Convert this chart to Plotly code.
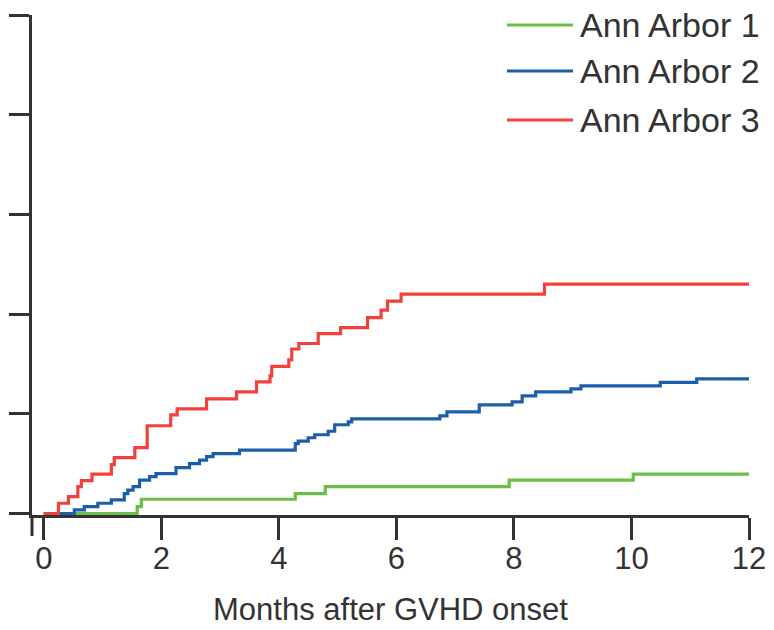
import plotly.graph_objects as go

# Step times (months) and cumulative incidence (%)
names = ["Ann Arbor 1", "Ann Arbor 2", "Ann Arbor 3"]
colors = ["#6cbd45", "#1c5ea8", "#f0413a"]

aa1_x = [0, 1.59, 1.66, 4.28, 4.79, 7.92, 10.03, 12]
aa1_y = [0, 0.7, 1.43, 2.0, 2.7, 3.35, 3.95, 3.95]

aa2_x = [0, 0.52, 0.69, 0.92, 1.15, 1.37, 1.43, 1.52, 1.63, 1.80, 1.91, 2.25,
         2.48, 2.65, 2.77, 2.88, 3.33, 4.28, 4.33, 4.50, 4.61, 4.84, 4.95,
         5.18, 5.24, 6.74, 6.86, 7.41, 7.97, 8.14, 8.37, 8.97, 9.14, 10.49,
         11.11, 12]
aa2_y = [0, 0.36, 0.7, 1.03, 1.36, 2.0, 2.35, 2.7, 3.35, 3.7, 4.0, 4.6,
         5.0, 5.35, 5.7, 6.0, 6.35, 7.0, 7.25, 7.6, 7.9, 8.25, 8.9,
         9.2, 9.5, 9.8, 10.2, 10.9, 11.2, 11.8, 12.2, 12.5, 12.8, 13.15,
         13.5, 13.5]

aa3_x = [0, 0.25, 0.42, 0.58, 0.64, 0.82, 1.15, 1.20, 1.55, 1.76, 2.16, 2.27,
         2.77, 3.28, 3.62, 3.85, 3.88, 4.17, 4.22, 4.34, 4.67, 5.05, 5.51,
         5.74, 5.85, 6.08, 8.52, 12]
aa3_y = [0, 1.03, 1.7, 2.7, 3.3, 3.95, 4.9, 5.6, 6.6, 8.8, 9.9, 10.5,
         11.5, 12.2, 13.2, 13.8, 14.75, 15.4, 16.5, 17.05, 18.05, 18.65, 19.65,
         20.4, 21.3, 22.0, 23.0, 23.0]

x_ticks = [0, 2, 4, 6, 8, 10, 12]
y_ticks = [0, 10, 20, 30, 40, 50]
x_title = "Months after GVHD onset"

series = [(aa1_x, aa1_y), (aa2_x, aa2_y), (aa3_x, aa3_y)]

FONT = "Liberation Sans, Arial, sans-serif"
TXT = "#333333"
AX = "#333333"

fig = go.Figure()
for (xs, ys), nm, col in zip(series, names, colors):
    fig.add_trace(go.Scatter(x=xs, y=ys, mode="lines", name=nm,
                             line=dict(color=col, width=3.2, shape="hv"),
                             showlegend=False, hoverinfo="skip"))

# manual legend (long line samples like the reference)
leg_y = [0.98, 0.888, 0.79]
for nm, col, ly in zip(names, colors, leg_y):
    fig.add_shape(type="line", xref="paper", yref="paper",
                  x0=0.6625, x1=0.7545, y0=ly, y1=ly,
                  line=dict(color=col, width=3.2))
    fig.add_annotation(xref="paper", yref="paper", x=0.761, y=ly,
                       text=nm, showarrow=False, xanchor="left", yanchor="middle",
                       font=dict(size=34, color=TXT, family=FONT))

# y-axis extension below x axis
fig.add_shape(type="line", xref="paper", yref="paper", x0=0, x1=0, y0=0, y1=-0.042,
              line=dict(color=AX, width=3))

# page body has an 8px default margin, so the figure is sized/margined to compensate
fig.update_layout(
    width=766, height=622,
    margin=dict(l=24, r=25, t=7, b=115, autoexpand=False),
    paper_bgcolor="white", plot_bgcolor="white",
    font=dict(family=FONT, color=TXT, size=31),
    xaxis=dict(range=[-0.2, 12], tickvals=x_ticks, ticks="outside", ticklen=22,
               tickwidth=3, tickcolor=AX, showline=True, linewidth=3, linecolor=AX,
               showgrid=False, zeroline=False, layer="below traces",
               automargin=False, ticklabelstandoff=-8,
               tickfont=dict(size=31, color=TXT, family=FONT),
               title=dict(text=x_title, font=dict(size=31, color=TXT, family=FONT),
                          standoff=24)),
    yaxis=dict(range=[-0.15, 50], tickvals=y_ticks, ticks="outside", ticklen=20,
               tickwidth=3, tickcolor=AX, showline=True, linewidth=3, linecolor=AX,
               showgrid=False, zeroline=False, showticklabels=False,
               automargin=False, layer="below traces"),
)

fig.write_html("out.html")
